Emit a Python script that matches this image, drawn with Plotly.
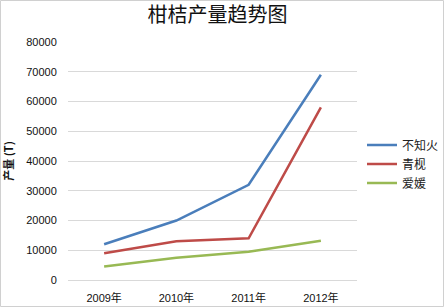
import plotly.graph_objects as go

years = ["2009年", "2010年", "2011年", "2012年"]
buzhihuo = [12000, 20000, 32000, 69000]
qingjian = [9000, 13000, 14000, 58000]
aiyuan = [4500, 7500, 9500, 13200]
y_ticks = [0, 10000, 20000, 30000, 40000, 50000, 60000, 70000, 80000]

fig = go.Figure()
for name, vals, color in [("不知火", buzhihuo, "#4A7EBB"),
                          ("青枧", qingjian, "#BE4B48"),
                          ("爱媛", aiyuan, "#98B954")]:
    fig.add_trace(go.Scatter(x=years, y=vals, name=name, mode="lines",
                             line=dict(color=color, width=2.5)))

fig.update_layout(
    template="none",
    width=444, height=307,
    margin=dict(l=68, r=87, t=42, b=27),
    paper_bgcolor="white", plot_bgcolor="white",
    title=dict(text="柑桔产量趋势图", x=0.49, xanchor="center", y=0.95, yanchor="middle",
               font=dict(family="Noto Sans CJK SC", size=20, color="#111")),
    legend=dict(xref="container", yref="container", x=1.0, xanchor="right",
                y=1 - 164 / 307, yanchor="middle",
                font=dict(family="Noto Sans CJK SC", size=12, color="#222"),
                itemwidth=30, tracegroupgap=0, bgcolor="rgba(0,0,0,0)", borderwidth=0),
    showlegend=True,
)
fig.update_xaxes(showgrid=False, showline=False, zeroline=False, ticks="outside",
                 ticklen=8, tickcolor="rgba(0,0,0,0)", range=[-0.5, 3.5],
                 tickfont=dict(family="Liberation Sans, Noto Sans CJK SC", size=11, color="#111"))
fig.update_yaxes(range=[0, 80000], tickvals=y_ticks, tickformat="d",
                 showgrid=True, gridcolor="#D9D9D9", gridwidth=1, zeroline=True,
                 zerolinecolor="#D9D9D9", zerolinewidth=1, showline=False,
                 tickfont=dict(family="Liberation Sans", size=11, color="#111"),
                 ticks="outside", ticklen=8, tickcolor="rgba(0,0,0,0)",
                 title=dict(text="<b>产量 (T)</b>", standoff=14,
                            font=dict(family="Noto Sans CJK SC", size=11, color="#111")))
fig.add_shape(type="rect", xref="paper", yref="paper", x0=-67.5/289, x1=1+86.5/289,
              y0=-26.5/238, y1=1+41.5/238, line=dict(color="#D0D0D0", width=1))

fig.write_html("out.html", config={"displayModeBar": False},
               post_script="document.body.style.margin='0';document.body.style.overflow='hidden';")
